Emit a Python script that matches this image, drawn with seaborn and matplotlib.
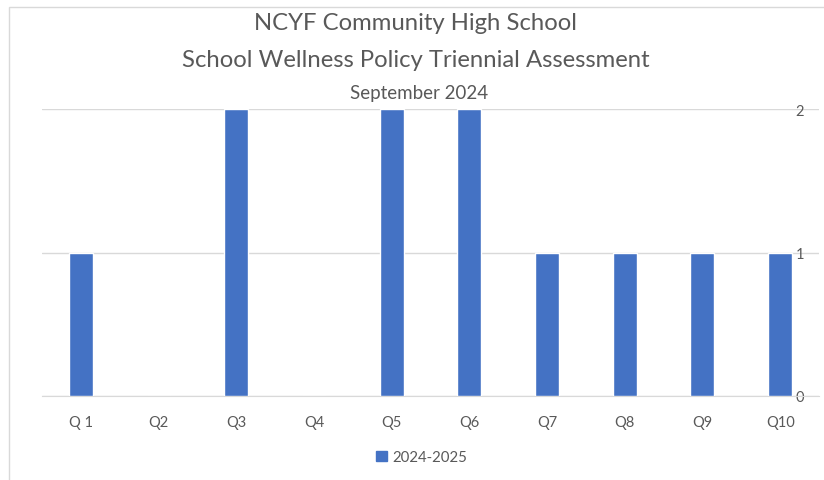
import matplotlib
matplotlib.use("Agg")
import matplotlib.pyplot as plt
import matplotlib.patches as mpatches
import seaborn as sns
import pandas as pd

# data
questions = ["Q 1", "Q2", "Q3", "Q4", "Q5", "Q6", "Q7", "Q8", "Q9", "Q10"]
counts = [1, 0, 2, 0, 2, 2, 1, 1, 1, 1]
series_name = "2024-2025"
title_lines = ["NCYF Community High School",
               "School Wellness Policy Triennial Assessment"]
subtitle = "September 2024"

sns.set_style("white")
plt.rcParams["font.family"] = ["Lato", "DejaVu Sans"]

grey = "#595959"
blue = "#4472C4"

df = pd.DataFrame({"question": questions, "count": counts})

fig = plt.figure(figsize=(8.24, 4.81), dpi=100)
ax = fig.add_axes([42 / 824, 1 - 397 / 481, (819 - 42) / 824, (397 - 110) / 481])

sns.barplot(data=df, x="question", y="count", color=blue, width=0.31,
            saturation=1, ax=ax, zorder=3)

ax.set_xlim(-0.5, len(questions) - 0.5)
ax.set_ylim(0, 2)
ax.set_yticks([0, 1, 2])
ax.yaxis.tick_right()
ax.tick_params(axis="y", length=0, pad=-17, labelsize=10.5, labelcolor=grey)
ax.tick_params(axis="x", length=0, pad=14, labelsize=10.5, labelcolor=grey)
ax.grid(axis="y", color="#d9d9d9", linewidth=1, zorder=0)
ax.set_xlabel("")
ax.set_ylabel("")
for s in ["top", "left", "right"]:
    ax.spines[s].set_visible(False)
ax.spines["bottom"].set_color("#d9d9d9")
ax.set_facecolor("none")

# chart border
fig.patches.append(mpatches.Rectangle((9 / 824, -0.1), 1.2, 1 - 8 / 481 + 0.1,
                                      transform=fig.transFigure, fill=False,
                                      edgecolor="#d9d9d9", linewidth=1))

fig.text(416 / 824, 1 - 24 / 481, title_lines[0], ha="center", va="center",
         fontsize=17.2, color=grey)
fig.text(416 / 824, 1 - 61 / 481, title_lines[1], ha="center", va="center",
         fontsize=17.2, color=grey)
fig.text(419 / 824, 1 - 94 / 481, subtitle, ha="center", va="center",
         fontsize=13.5, color=grey)

handle = mpatches.Patch(color=blue, label=series_name)
fig.legend(handles=[handle], loc="center", bbox_to_anchor=(422 / 824, 1 - 458 / 481),
           frameon=False, fontsize=10.8, labelcolor=grey, handlelength=0.7,
           handleheight=0.7, handletextpad=0.4)

fig.savefig("out.png", dpi=100)
